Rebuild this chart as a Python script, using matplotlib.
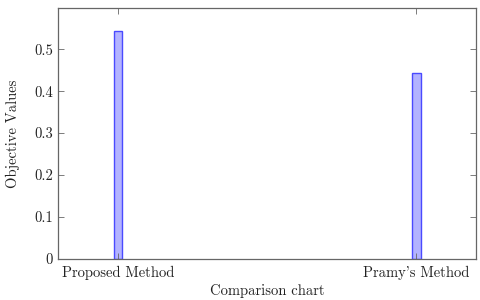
import matplotlib
matplotlib.use('Agg')
import matplotlib.pyplot as plt
import numpy as np

methods = ['Proposed Method', "Pramy's Method"]
objective_values = [0.544, 0.443]
yticks = [0, 0.1, 0.2, 0.3, 0.4, 0.5]

plt.rcParams['font.family'] = 'serif'
plt.rcParams['font.serif'] = ['cmr10', 'DejaVu Serif']
plt.rcParams['mathtext.fontset'] = 'cm'
plt.rcParams['axes.unicode_minus'] = False

fig = plt.figure(figsize=(4.8, 3.0), dpi=100)
ax = fig.add_axes([0.121, 0.137, 0.871, 0.836])

x = np.arange(len(methods))
ax.bar(x, objective_values, width=0.028, color='#b3b3ff',
       edgecolor='#4a4aff', linewidth=1.0)

ax.set_xlim(-0.2, 1.2)
ax.set_ylim(0, 0.598)
ax.set_xticks(x)
ax.set_xticklabels(methods)
ax.set_yticks(yticks)
ax.set_yticklabels([str(t) if t else '0' for t in yticks])
ax.tick_params(direction='in', top=True, right=True, length=4, width=0.6,
               colors='#666666', labelcolor='#222222', labelsize=10.5)
ax.tick_params(axis='x', pad=5)
for s in ax.spines.values():
    s.set_color('#666666')
    s.set_linewidth(0.9)

ax.set_xlabel('Comparison chart', fontsize=10.5, color='#222222', labelpad=3)
ax.set_ylabel('Objective Values', fontsize=10.5, color='#222222', labelpad=10)

fig.savefig('out.png', dpi=100)
